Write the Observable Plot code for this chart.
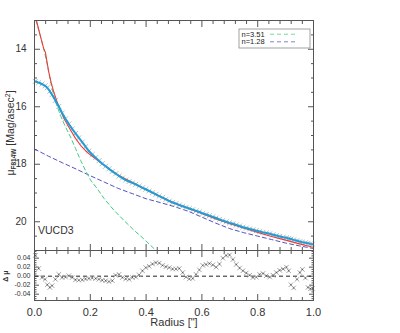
<!DOCTYPE html>
<html><head><meta charset="utf-8">
<script src="https://cdn.jsdelivr.net/npm/d3@7"></script>
<script src="https://cdn.jsdelivr.net/npm/@observablehq/plot@0.6"></script>
<style>
body{margin:0;background:#fff;}
#chart{position:relative;width:400px;height:333px;overflow:hidden;background:#fff;}
#chart svg{position:absolute;left:0;}
</style></head><body><div id="chart"></div>
<script>
// ---- data ----
const radius = [0.003,0.015,0.027,0.038,0.046,0.055,0.063,0.075,0.087,0.099,0.111,0.123,0.135,0.147,0.159,0.171,0.183,0.195,0.207,0.219,0.231,0.243,0.255,0.267,0.279,0.291,0.303,0.315,0.327,0.339,0.351,0.363,0.375,0.387,0.399,0.411,0.423,0.435,0.447,0.459,0.471,0.483,0.495,0.507,0.519,0.531,0.543,0.555,0.567,0.579,0.591,0.603,0.615,0.627,0.639,0.651,0.663,0.675,0.687,0.699,0.711,0.723,0.735,0.747,0.759,0.771,0.783,0.795,0.807,0.819,0.831,0.843,0.855,0.867,0.879,0.891,0.903,0.911,0.919,0.929,0.941,0.951,0.960,0.971,0.980,0.989,0.996];
const muData = [15.12,15.16,15.21,15.27,15.34,15.46,15.58,15.78,15.99,16.22,16.42,16.60,16.77,16.93,17.08,17.23,17.39,17.54,17.66,17.77,17.88,17.98,18.07,18.16,18.25,18.33,18.41,18.48,18.55,18.60,18.65,18.70,18.76,18.82,18.87,18.93,18.99,19.05,19.11,19.16,19.22,19.28,19.33,19.37,19.42,19.46,19.50,19.54,19.58,19.62,19.66,19.71,19.75,19.79,19.83,19.87,19.92,19.96,20.00,20.04,20.07,20.11,20.15,20.19,20.22,20.25,20.28,20.31,20.34,20.37,20.39,20.42,20.45,20.48,20.51,20.54,20.56,20.58,20.60,20.63,20.66,20.69,20.71,20.73,20.75,20.77,20.78];
const resid = [0.046,0.017,-0.003,-0.007,-0.019,-0.025,-0.021,-0.007,0.004,-0.003,-0.002,0.001,-0.003,-0.008,-0.009,-0.008,-0.006,-0.005,-0.004,-0.005,-0.007,-0.009,-0.010,-0.012,-0.010,0.002,0.004,-0.003,-0.006,-0.007,-0.003,-0.002,0.003,0.012,0.019,0.022,0.027,0.030,0.029,0.024,0.021,0.019,0.016,0.016,0.017,0.008,-0.002,-0.006,-0.005,0.004,0.014,0.024,0.026,0.028,0.025,0.020,0.027,0.040,0.046,0.047,0.037,0.026,0.018,0.012,0.007,0.002,-0.003,-0.002,0.004,0.006,0.001,-0.002,0.002,0.008,0.013,0.016,0.020,0.012,-0.019,-0.026,-0.007,0.008,0.015,-0.004,-0.025,-0.028,-0.027];

const totalR  = [0.007,0.020,0.033,0.039,0.045,0.051,0.060,0.069,0.081,0.093,0.105,0.129,0.147,0.165,0.183,0.201,0.220,0.240,0.260,0.280,0.300,0.330,0.360,0.400,0.450,0.500,0.550,0.600,0.650,0.700,0.750,0.800,0.850,0.900,0.950,1.000];
const totalMu = [13.00,13.50,13.98,14.10,14.45,14.79,15.17,15.48,15.83,16.12,16.40,16.81,17.10,17.34,17.53,17.68,17.82,17.97,18.10,18.24,18.37,18.53,18.68,18.88,19.12,19.34,19.53,19.71,19.90,20.07,20.22,20.37,20.51,20.64,20.77,20.89];

const n351R  = [0.005,0.020,0.033,0.045,0.055,0.063,0.075,0.093,0.110,0.129,0.147,0.165,0.183,0.201,0.225,0.250,0.284,0.320,0.356,0.390,0.430,0.445];
const n351Mu = [13.00,13.50,13.98,14.50,15.00,15.38,15.82,16.30,16.68,17.05,17.45,17.86,18.22,18.55,18.85,19.20,19.59,19.95,20.29,20.58,20.95,21.05];

const n128R  = [0.000,0.050,0.100,0.150,0.200,0.250,0.300,0.350,0.400,0.450,0.500,0.550,0.600,0.650,0.700,0.750,0.800,0.850,0.900,0.950,1.000];
const n128Mu = [17.47,17.72,17.95,18.17,18.40,18.62,18.84,19.02,19.20,19.33,19.47,19.63,19.84,20.05,20.24,20.38,20.50,20.62,20.74,20.84,20.93];

const xMajor = [0,0.2,0.4,0.6,0.8,1.0];
const xMinor = [0.04,0.08,0.12,0.16,0.24,0.28,0.32,0.36,0.44,0.48,0.52,0.56,0.64,0.68,0.72,0.76,0.84,0.88,0.92,0.96];
const yMajor = [14,16,18,20];
const yMinor = [13.5,14.5,15,15.5,16.5,17,17.5,18.5,19,19.5,20.5];
const dMajor = [-0.04,-0.02,0,0.02,0.04];
const dMinor = [-0.05,-0.045,-0.035,-0.03,-0.025,-0.015,-0.01,-0.005,0.005,0.01,0.015,0.025,0.03,0.035,0.045,0.05,0.055];
const legendLabels = ["n=3.51","n=1.28"];
const galaxyName = "VUCD3";
const xTitle = 'Radius ["]';

const C = {frame:"#555", text:"#333", blue:"#1e9ed8", red:"#ee3b3b", green:"#3fcc85", purple:"#5252c4", marker:"#bdbdbd"};
const FONT = "'Liberation Sans', Arial, sans-serif";

const prof = radius.map((r,i)=>({r, mu: muData[i], d: resid[i]}));
const total = totalR.map((r,i)=>({r, mu: totalMu[i]}));
const comp1 = n351R.map((r,i)=>({r, mu: n351Mu[i]}));
const comp2 = n128R.map((r,i)=>({r, mu: n128Mu[i]}));
const blank = () => "";

function tickAxesX(minSize, majSize) {
  return [
    Plot.axisX(xMajor, {anchor:"bottom", tickSize:-majSize, tickFormat:blank, label:null, stroke:C.frame}),
    Plot.axisX(xMinor, {anchor:"bottom", tickSize:-minSize, tickFormat:blank, label:null, stroke:C.frame}),
    Plot.axisX(xMajor, {anchor:"top", tickSize:-majSize, tickFormat:blank, label:null, stroke:C.frame}),
    Plot.axisX(xMinor, {anchor:"top", tickSize:-minSize, tickFormat:blank, label:null, stroke:C.frame})
  ];
}

const main = Plot.plot({
  width: 400, height: 251,
  marginLeft: 34, marginRight: 87, marginTop: 20, marginBottom: 1,
  style: {fontFamily: FONT, fontSize: "10px", color: C.text, background: "transparent"},
  x: {domain: [0, 1]},
  y: {domain: [13, 21], reverse: true},
  marks: [
    ...tickAxesX(3, 6),
    Plot.axisY(yMajor, {anchor:"left", tickSize:-6, tickFormat:blank, label:null, stroke:C.frame}),
    Plot.axisY(yMinor, {anchor:"left", tickSize:-3, tickFormat:blank, label:null, stroke:C.frame}),
    Plot.axisY(yMajor, {anchor:"right", tickSize:-6, tickFormat:blank, label:null, stroke:C.frame}),
    Plot.axisY(yMinor, {anchor:"right", tickSize:-3, tickFormat:blank, label:null, stroke:C.frame}),
    Plot.axisY(yMajor, {anchor:"left", tickSize:0, tickPadding:8, label:null, fontSize:10, fill:C.text}),
    Plot.line(comp2, {x:"r", y:"mu", stroke:C.purple, strokeWidth:1, strokeDasharray:"4,3", clip:true}),
    Plot.line(comp1, {x:"r", y:"mu", stroke:C.green, strokeWidth:1, strokeDasharray:"4,3", clip:true}),
    Plot.dot(prof, {x:"r", y:"mu", symbol:"times", r:2.4, stroke:C.marker, strokeWidth:1}),
    Plot.line(total, {x:"r", y:"mu", stroke:C.red, strokeWidth:1.1, clip:true}),
    Plot.line(prof, {x:"r", y:"mu", stroke:C.blue, strokeWidth:2}),
    Plot.text([galaxyName], {frameAnchor:"bottom-left", dx:3.5, dy:-17, textAnchor:"start", fontSize:10.5, fill:C.text}),
    Plot.frame({stroke:C.frame, strokeWidth:1})
  ]
});

const lower = Plot.plot({
  width: 400, height: 84,
  marginLeft: 34, marginRight: 87, marginTop: 1, marginBottom: 33,
  style: {fontFamily: FONT, fontSize: "10px", color: C.text, background: "transparent"},
  x: {domain: [0, 1]},
  y: {domain: [-0.054, 0.057]},
  marks: [
    ...tickAxesX(3, 6),
    Plot.axisY(dMajor, {anchor:"left", tickSize:-5, tickFormat:blank, label:null, stroke:C.frame}),
    Plot.axisY(dMinor, {anchor:"left", tickSize:-2.5, tickFormat:blank, label:null, stroke:C.frame}),
    Plot.axisY(dMajor, {anchor:"right", tickSize:-5, tickFormat:blank, label:null, stroke:C.frame}),
    Plot.axisY(dMinor, {anchor:"right", tickSize:-2.5, tickFormat:blank, label:null, stroke:C.frame}),
    Plot.axisY(dMajor, {anchor:"left", tickSize:0, tickPadding:4, label:null, fontSize:7, fill:C.text, tickFormat:d => d.toFixed(2)}),
    Plot.axisX(xMajor, {anchor:"bottom", tickSize:0, tickPadding:8, label:null, fontSize:11, fill:C.text, tickFormat:d => d.toFixed(1)}),
    Plot.text([xTitle], {frameAnchor:"bottom", dy:25, fontSize:11, fill:C.text}),
    Plot.ruleY([0], {stroke:"#222", strokeWidth:1, strokeDasharray:"4,3"}),
    Plot.dot(prof, {x:"r", y:"d", symbol:"times", r:2.2, stroke:"#a5a5a5", strokeWidth:1}),
    Plot.dot(prof, {x:"r", y:"d", r:0.7, fill:"#555"}),
    Plot.frame({stroke:C.frame, strokeWidth:1})
  ]
});

main.style.top = "0px";
lower.style.top = "249px";
const chart = document.getElementById("chart");
chart.appendChild(main);
chart.appendChild(lower);

// y-axis titles with sub/superscripts
const ms = d3.select(main);
const yl = ms.append("text")
  .attr("transform","translate(14,133) rotate(-90)")
  .attr("text-anchor","middle").attr("font-family",FONT).attr("font-size",10.5).attr("fill",C.text);
yl.append("tspan").text("μ");
yl.append("tspan").attr("font-size",6.5).attr("font-weight","bold").attr("dy",2).text("F814W");
yl.append("tspan").attr("dy",-2).text(" [Mag/asec");
yl.append("tspan").attr("font-size",7).attr("dy",-4).text("2");
yl.append("tspan").attr("dy",4).text("]");

const ls = d3.select(lower);
ls.append("text")
  .attr("transform","translate(7.5,27) rotate(-90)")
  .attr("text-anchor","middle").attr("font-family",FONT).attr("font-size",7).attr("font-weight","bold")
  .attr("fill",C.text).text("Δ μ");

// legend
const lg = ms.append("g").attr("font-family",FONT).attr("font-size",7.5).attr("fill","#222");
lg.append("rect").attr("x",239).attr("y",29).attr("width",71).attr("height",19)
  .attr("fill","#fff").attr("stroke","#8a8a8a").attr("stroke-width",0.8);
const legColors = [C.green, C.purple];
legendLabels.forEach((t,i)=>{
  const yb = 36.8 + i*7.6;
  lg.append("text").attr("x",241.5).attr("y",yb).attr("text-anchor","start").text(t);
  lg.append("line").attr("x1",270).attr("x2",297).attr("y1",yb-2.6).attr("y2",yb-2.6)
    .attr("stroke",legColors[i]).attr("stroke-width",0.9).attr("stroke-dasharray","4,3").attr("opacity",0.8);
});
</script></body></html>
